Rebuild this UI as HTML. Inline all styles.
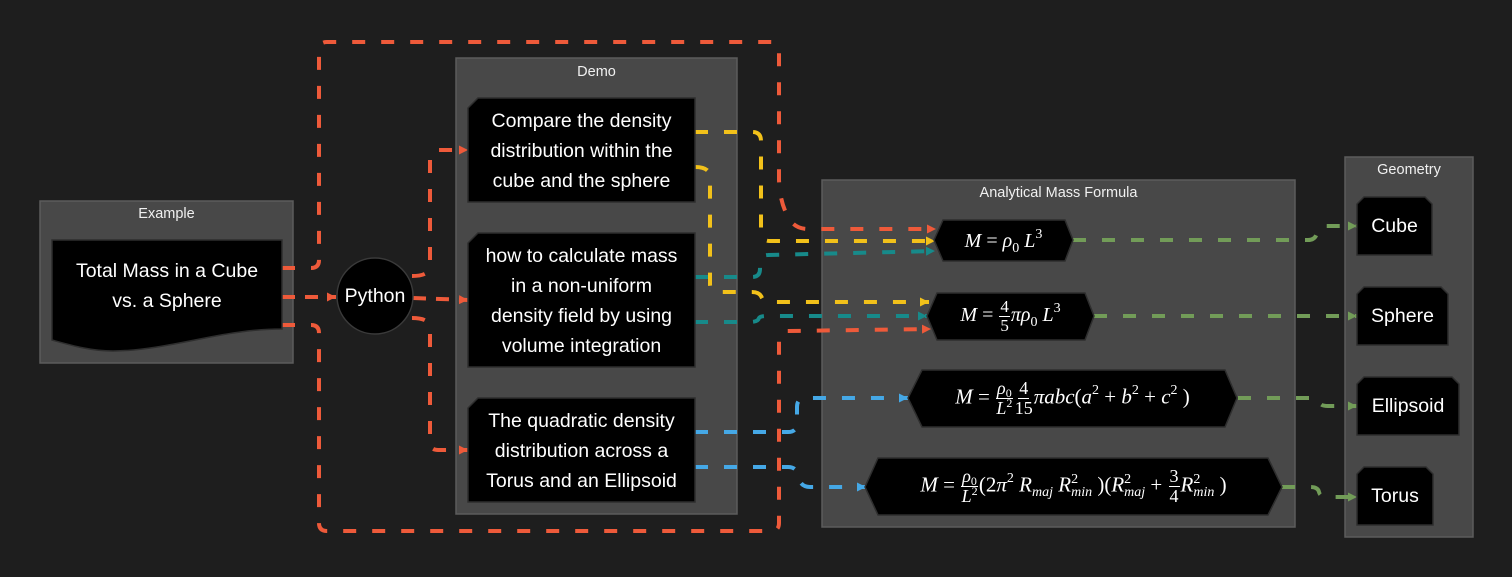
<!DOCTYPE html>
<html>
<head>
<meta charset="utf-8">
<style>
html,body{margin:0;padding:0;background:#1e1e1e;}
body{width:1512px;height:577px;overflow:hidden;position:relative;font-family:"Liberation Sans","DejaVu Sans",sans-serif;}
svg{position:absolute;left:0;top:0;}
.t{position:absolute;color:#fff;text-align:center;font-size:19.5px;line-height:30px;white-space:nowrap;display:flex;align-items:center;justify-content:center;flex-direction:column;}
.gt{position:absolute;color:#f0f0f0;font-size:14.5px;text-align:center;line-height:16px;}
.f{position:absolute;color:#fff;font-family:"Liberation Serif","DejaVu Serif",serif;font-size:20px;display:flex;align-items:center;justify-content:center;white-space:nowrap;}
.f > span.w{display:inline-block;line-height:24px;}
.f.big{font-size:21px;}
.f i{font-style:italic;}
.fr{display:inline-flex;flex-direction:column;align-items:center;vertical-align:middle;font-size:17px;line-height:18px;margin:0 1px;}
.big .fr{font-size:18px;line-height:19px;}
.fr .n{border-bottom:1px solid #fff;padding:0 1px;}
.f sub{font-size:14px;position:relative;top:5px;vertical-align:baseline;line-height:0;}
.f sup{font-size:14px;position:relative;top:-9px;vertical-align:baseline;line-height:0;}
.fr sub{font-size:12px;top:3px;}
.fr sup{font-size:12px;top:-7px;}
.ss{display:inline-block;vertical-align:-5px;font-size:14px;line-height:13px;text-align:left;}
.ss > span{display:block;}
.sp{display:inline-block;width:5px;}
</style>
</head>
<body>
<svg width="1512" height="577" viewBox="0 0 1512 577" xmlns="http://www.w3.org/2000/svg">
<defs>
<marker id="aO" markerUnits="userSpaceOnUse" markerWidth="10" markerHeight="10" refX="9" refY="5" orient="auto"><path d="M0,0.5 L9,5 L0,9.5 z" fill="#ee5a3a"/></marker>
<marker id="aY" markerUnits="userSpaceOnUse" markerWidth="10" markerHeight="10" refX="9" refY="5" orient="auto"><path d="M0,0.5 L9,5 L0,9.5 z" fill="#f2c11a"/></marker>
<marker id="aT" markerUnits="userSpaceOnUse" markerWidth="10" markerHeight="10" refX="9" refY="5" orient="auto"><path d="M0,0.5 L9,5 L0,9.5 z" fill="#178a8a"/></marker>
<marker id="aB" markerUnits="userSpaceOnUse" markerWidth="10" markerHeight="10" refX="9" refY="5" orient="auto"><path d="M0,0.5 L9,5 L0,9.5 z" fill="#45a8e6"/></marker>
<marker id="aG" markerUnits="userSpaceOnUse" markerWidth="10" markerHeight="10" refX="9" refY="5" orient="auto"><path d="M0,0.5 L9,5 L0,9.5 z" fill="#729c58"/></marker>
</defs>
<!-- groups -->
<g fill="#484848" stroke="#5c5c5c" stroke-width="1.5">
<rect x="40" y="201" width="253" height="162"/>
<rect x="456" y="58" width="281" height="456"/>
<rect x="822" y="180" width="473" height="347"/>
<rect x="1345" y="157" width="128" height="380"/>
</g>
<!-- edges -->
<g fill="none" stroke-width="4" stroke-dasharray="13 16">
<path stroke="#ee5a3a" d="M282 268 H311 Q319 268 319 260 V50 Q319 42 327 42 H771 Q779 42 779 50 V180 Q780 205 790 220 Q796 229 808 229 H936" marker-end="url(#aO)"/>
<path stroke="#ee5a3a" d="M282 297 H336" stroke-dasharray="13 10" marker-end="url(#aO)"/>
<path stroke="#ee5a3a" d="M282 325 H311 Q319 325 319 333 V523 Q319 531 327 531 H771 Q779 531 779 523 V340 Q779 331 788 331 L931 329" marker-end="url(#aO)"/>
<path stroke="#ee5a3a" d="M412 276 Q430 276 430 266 V158 Q430 150 438 150 H468" marker-end="url(#aO)"/>
<path stroke="#ee5a3a" d="M413 298 L468 300" stroke-dasharray="13 10" marker-end="url(#aO)"/>
<path stroke="#ee5a3a" d="M412 318 Q430 318 430 328 V442 Q430 450 438 450 H468" marker-end="url(#aO)"/>
<path stroke="#f2c11a" d="M695 132 H752 Q761 132 761 141 V232 Q761 241 770 241 H935" marker-end="url(#aY)"/>
<path stroke="#f2c11a" d="M695 167 Q710 167 710 177 V284 Q710 292 718 292 H752 Q760 292 762 298 Q764 302 772 302 H929" marker-end="url(#aY)"/>
<path stroke="#178a8a" d="M695 277 H752 Q760 277 760 269 V263 Q760 255 768 255 L935 251" marker-end="url(#aT)"/>
<path stroke="#178a8a" d="M695 322 H750 Q758 322 759 318 Q760 316 768 316 H927" marker-end="url(#aT)"/>
<path stroke="#45a8e6" d="M695 432 H788 Q797 432 797 423 V407 Q797 398 806 398 H908" marker-end="url(#aB)"/>
<path stroke="#45a8e6" d="M695 467 H788 Q797 467 798 476 Q800 487 810 487 H866" marker-end="url(#aB)"/>
<path stroke="#729c58" d="M1073 240 H1308 Q1316 240 1317 232 Q1318 226 1326 226 H1357" marker-end="url(#aG)"/>
<path stroke="#729c58" d="M1094 316 H1357" marker-end="url(#aG)"/>
<path stroke="#729c58" d="M1238 398 H1312 Q1320 398 1320 402 Q1320 406 1328 406 H1357" marker-end="url(#aG)"/>
<path stroke="#729c58" d="M1282 487 H1310 Q1318 487 1319 492 Q1320 497 1328 497 H1357" marker-end="url(#aG)"/>
</g>
<!-- nodes -->
<g fill="#000" stroke="#2e2e2e" stroke-width="1.5">
<path d="M52 240 H282 V329 C255 329 230 333 200 339 C170 345 140 351 113 351 C90 351 70 345 52 340 Z"/>
<circle cx="375" cy="296" r="38" stroke="#3a3a3a"/>
<path d="M478 98 H695 V202 H468 V108 Z"/>
<path d="M478 233 H695 V367 H468 V243 Z"/>
<path d="M478 398 H695 V502 H468 V408 Z"/>
<path d="M943 220 H1065 L1073 240 L1065 261 H943 L934 240 Z"/>
<path d="M937 293 H1085 L1094 316 L1085 340 H937 L927 316 Z"/>
<path d="M922 370 H1225 L1237 398 L1225 427 H922 L908 398 Z"/>
<path d="M878 458 H1268 L1282 487 L1268 515 H878 L865 487 Z"/>
<path d="M1364 197 H1425 L1432 204 V255 H1357 V204 Z"/>
<path d="M1364 287 H1441 L1448 294 V345 H1357 V294 Z"/>
<path d="M1364 377 H1452 L1459 384 V435 H1357 V384 Z"/>
<path d="M1364 467 H1426 L1433 474 V525 H1357 V474 Z"/>
</g>
</svg>

<div class="gt" style="left:40px;top:206px;width:253px;">Example</div>
<div class="gt" style="left:456px;top:64px;width:281px;">Demo</div>
<div class="gt" style="left:822px;top:185px;width:473px;">Analytical Mass Formula</div>
<div class="gt" style="left:1345px;top:162px;width:128px;">Geometry</div>

<div class="t" style="left:52px;top:240px;width:230px;height:91px;"><div>Total Mass in a Cube</div><div>vs. a Sphere</div></div>
<div class="t" style="left:337px;top:258px;width:76px;height:76px;">Python</div>
<div class="t" style="left:468px;top:98px;width:227px;height:105px;"><div>Compare the density</div><div>distribution within the</div><div>cube and the sphere</div></div>
<div class="t" style="left:468px;top:233px;width:227px;height:135px;"><div>how to calculate mass</div><div>in a non-uniform</div><div>density field by using</div><div>volume integration</div></div>
<div class="t" style="left:468px;top:398px;width:227px;height:105px;"><div>The quadratic density</div><div>distribution across a</div><div>Torus and an Ellipsoid</div></div>

<div class="t" style="left:1357px;top:197px;width:75px;height:58px;">Cube</div>
<div class="t" style="left:1357px;top:287px;width:91px;height:58px;">Sphere</div>
<div class="t" style="left:1357px;top:377px;width:102px;height:58px;">Ellipsoid</div>
<div class="t" style="left:1357px;top:467px;width:76px;height:58px;">Torus</div>

<div class="f" style="left:934px;top:220px;width:139px;height:41px;"><span class="w"><i>M</i>&nbsp;=&nbsp;<i>ρ</i><sub>0</sub><span class="sp"></span><i>L</i><sup>3</sup></span></div>
<div class="f" style="left:927px;top:293px;width:167px;height:47px;"><span class="w"><i>M</i>&nbsp;=&nbsp;<span class="fr"><span class="n">4</span><span>5</span></span><i>πρ</i><sub>0</sub><span class="sp"></span><i>L</i><sup>3</sup></span></div>
<div class="f big" style="left:908px;top:370px;width:329px;height:57px;"><span class="w"><i>M</i>&nbsp;=&nbsp;<span class="fr"><span class="n"><i>ρ</i><sub>0</sub></span><span><i>L</i><sup>2</sup></span></span><span class="fr"><span class="n">4</span><span>15</span></span><i>πabc</i>(<i>a</i><sup>2</sup>&nbsp;+&nbsp;<i>b</i><sup>2</sup>&nbsp;+&nbsp;<i>c</i><sup>2</sup>&nbsp;)</span></div>
<div class="f big" style="left:865px;top:458px;width:417px;height:57px;"><span class="w"><i>M</i>&nbsp;=&nbsp;<span class="fr"><span class="n"><i>ρ</i><sub>0</sub></span><span><i>L</i><sup>2</sup></span></span>(2<i>π</i><sup>2</sup>&nbsp;<i>R</i><sub><i>maj</i></sub>&nbsp;<i>R</i><span class="ss"><span>2</span><i>min</i></span>&nbsp;)(<i>R</i><span class="ss"><span>2</span><i>maj</i></span>&nbsp;+&nbsp;<span class="fr"><span class="n">3</span><span>4</span></span><i>R</i><span class="ss"><span>2</span><i>min</i></span>&nbsp;)</span></div>
</body>
</html>
